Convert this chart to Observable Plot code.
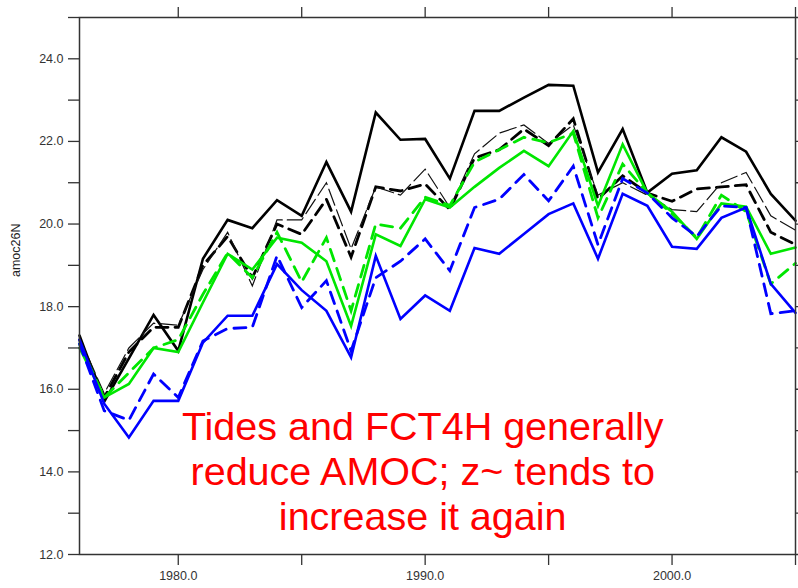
<!DOCTYPE html>
<html>
<head>
<meta charset="utf-8">
<script src="https://cdn.jsdelivr.net/npm/d3@7"></script>
<script src="https://cdn.jsdelivr.net/npm/@observablehq/plot@0.6"></script>
<style>
  html, body { margin: 0; padding: 0; background: #fff; }
  #chart svg { display: block; }
</style>
</head>
<body>
<div id="chart"></div>
<script>
const years = d3.range(1976, 2006);

const blackSolid = [17.3, 15.7, 16.75, 17.8, 16.93, 19.16, 20.1, 19.9, 20.58, 20.2, 21.5, 20.3, 22.7, 22.04, 22.06, 21.1, 22.74, 22.74, 23.06, 23.37, 23.35, 21.25, 22.3, 20.76, 21.22, 21.3, 22.1, 21.75, 20.73, 20.08];
const blackDashed = [17.2, 15.8, 16.9, 17.5, 17.5, 19.0, 19.7, 18.7, 20.0, 19.75, 20.6, 19.2, 20.9, 20.8, 20.97, 20.35, 21.6, 21.8, 22.3, 21.9, 22.55, 20.6, 21.17, 20.75, 20.55, 20.85, 20.9, 20.95, 19.8, 19.5];
const blackThinDashed = [17.25, 15.9, 17.0, 17.6, 17.55, 18.9, 19.8, 18.5, 20.1, 20.1, 21.0, 19.4, 20.9, 20.7, 21.33, 20.4, 21.7, 22.2, 22.4, 21.95, 22.4, 20.7, 21.0, 20.7, 20.35, 20.3, 21.0, 21.25, 20.2, 19.85];
const greenSolid = [17.0, 15.8, 16.13, 17.0, 16.9, 18.1, 19.28, 18.9, 19.67, 19.55, 19.1, 17.53, 19.75, 19.47, 20.6, 20.4, 20.9, 21.36, 21.77, 21.4, 22.25, 20.44, 21.93, 20.75, 20.3, 19.64, 20.5, 20.42, 19.28, 19.43];
const greenDashed = [17.1, 15.8, 16.4, 17.0, 17.2, 18.3, 19.3, 18.7, 19.8, 18.6, 19.67, 17.9, 20.0, 19.9, 20.65, 20.45, 21.5, 21.8, 22.1, 21.97, 22.2, 20.15, 21.45, 20.75, 20.25, 19.67, 20.7, 20.3, 18.55, 19.05];
const blueSolid = [17.2, 15.65, 14.83, 15.72, 15.72, 17.13, 17.78, 17.78, 19.03, 18.4, 17.9, 16.77, 19.23, 17.7, 18.27, 17.9, 19.42, 19.28, 19.76, 20.24, 20.5, 19.16, 20.73, 20.44, 19.45, 19.4, 20.15, 20.4, 18.55, 17.85];
const blueDashed = [17.1, 15.48, 15.25, 16.37, 15.8, 17.17, 17.47, 17.5, 19.23, 17.98, 18.63, 16.93, 18.7, 19.1, 19.64, 18.87, 20.4, 20.6, 21.2, 20.56, 21.4, 19.5, 21.1, 20.75, 20.15, 19.7, 20.44, 20.4, 17.83, 17.9];

const xTickLabels = ["1980.0", "1990.0", "2000.0"];
const yTickLabels = ["12.0", "14.0", "16.0", "18.0", "20.0", "22.0", "24.0"];
const yLabel = "amoc26N";
const note = "Tides and FCT4H generally\nreduce AMOC; z~ tends to\nincrease it again";

const series = [
  {name: "black solid", values: blackSolid, color: "#000000", width: 2.6, dash: null},
  {name: "black dashed", values: blackDashed, color: "#000000", width: 2.8, dash: "12,7"},
  {name: "black thin dashed", values: blackThinDashed, color: "#111111", width: 1.2, dash: "17,5"},
  {name: "green solid", values: greenSolid, color: "#00e600", width: 2.6, dash: null},
  {name: "green dashed", values: greenDashed, color: "#00e600", width: 2.8, dash: "12,8"},
  {name: "blue solid", values: blueSolid, color: "#0000ff", width: 2.6, dash: null},
  {name: "blue dashed", values: blueDashed, color: "#0000ff", width: 2.8, dash: "12,8"}
];

const font = "'Liberation Sans', Arial, Helvetica, sans-serif";

const lineMarks = series.map(s => Plot.line(
  years.map((yr, i) => ({year: yr, v: s.values[i]})),
  {x: "year", y: "v", stroke: s.color, strokeWidth: s.width,
   strokeDasharray: s.dash || undefined, strokeLinejoin: "miter", strokeMiterlimit: 4}
));

const xLabelMap = new Map([[1980, xTickLabels[0]], [1990, xTickLabels[1]], [2000, xTickLabels[2]]]);
const yLabelMap = new Map(yTickLabels.map(t => [+t, t]));

const chart = Plot.plot({
  width: 798,
  height: 588,
  marginLeft: 79,
  marginRight: 3,
  marginTop: 17,
  marginBottom: 34,
  style: {fontFamily: font, background: "#fff"},
  x: {domain: [1976, 2005]},
  y: {domain: [12, 25]},
  marks: [
    ...lineMarks,
    Plot.text([note], {x: () => 1989.9, y: () => 14.03, text: d => d,
      fill: "#ff0000", fontSize: 39.5, lineHeight: 1.14, textAnchor: "middle", lineAnchor: "middle", fontFamily: font}),
    Plot.frame({stroke: "#333", strokeWidth: 1.5}),
    Plot.axisY({anchor: "left", ticks: d3.range(12, 26), tickSize: 11, tickPadding: 5,
      tickFormat: d => yLabelMap.get(d) || "", fontSize: 12.5, stroke: "#333", strokeWidth: 1.3, fill: "#333", label: null}),
    Plot.axisY({anchor: "right", ticks: d3.range(12, 26), tickSize: 11, tickFormat: () => "", stroke: "#333", strokeWidth: 1.3, label: null}),
    Plot.axisX({anchor: "top", ticks: d3.range(1980, 2006, 5), tickSize: 11, tickFormat: () => "", stroke: "#333", strokeWidth: 1.3, label: null}),
    Plot.axisX({anchor: "bottom", ticks: d3.range(1980, 2006, 5), tickSize: 11, tickPadding: 6,
      tickFormat: d => xLabelMap.get(d) || "", fontSize: 12.5, stroke: "#333", strokeWidth: 1.3, fill: "#333", label: null}),
    Plot.text([yLabel], {frameAnchor: "left", text: d => d, rotate: -90, dx: -64, dy: -9, fontSize: 12.5, fill: "#222", fontFamily: font})
  ]
});

document.getElementById("chart").appendChild(chart);
</script>
</body>
</html>
